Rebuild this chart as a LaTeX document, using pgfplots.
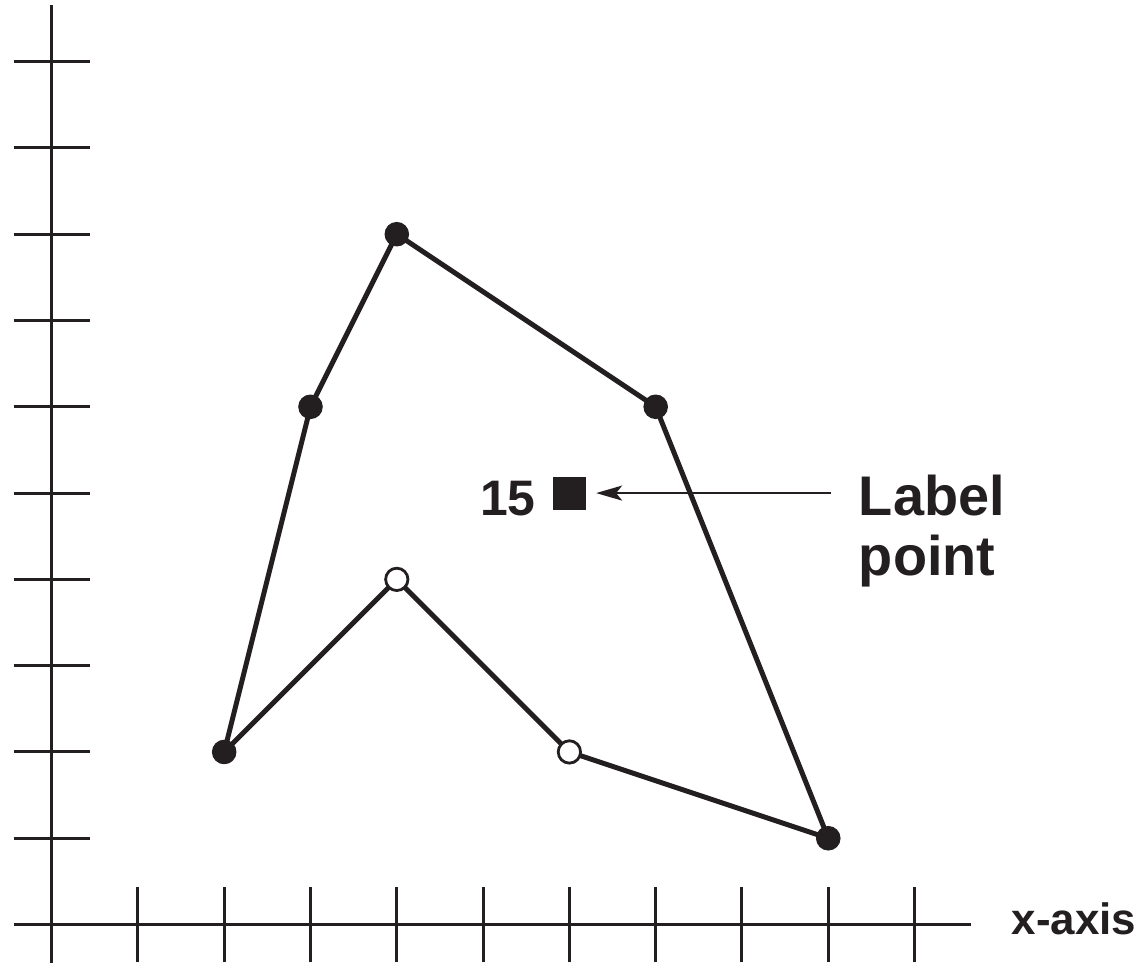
\documentclass[border=0pt]{standalone}
\usepackage{fontspec}
\setmainfont{Liberation Sans}
\usepackage{pgfplots}
\pgfplotsset{compat=1.18}
\usetikzlibrary{arrows.meta}
\definecolor{ink}{RGB}{35,31,32}
\begin{document}
\begin{tikzpicture}
\begin{axis}[
  x=43.25pt, y=43.25pt,
  xmin=-0.44, xmax=10.65, ymin=-0.44, ymax=10.66,
  axis lines=middle,
  axis line style={-, line width=1.5pt, draw=ink},
  every inner x axis line/.append style={-},
  every inner y axis line/.append style={-},
  xtick={1,...,10}, ytick={1,...,10},
  xticklabel=\empty, yticklabel=\empty,
  tick align=center,
  major tick length=38pt,
  tick style={line width=1.5pt, draw=ink},
  clip=false,
]
\path (axis cs:-0.566,-0.454) (axis cs:12.624,10.714);
% lower polygon line
\addplot[ink, line width=2.5pt, no marks] coordinates {(2,2) (4,4) (6,2) (9,1)};
% upper polygon with filled marks
\addplot[ink, line width=2.5pt, mark=*, mark size=5.9pt, mark options={fill=ink, draw=ink, line width=0.5pt}] coordinates {(2,2) (3,6) (4,8) (7,6) (9,1)};
% open marks
\addplot[only marks, mark=*, mark size=5.6pt, mark options={fill=white, draw=ink, line width=1.4pt}] coordinates {(4,4) (6,2)};
% label point square
\addplot[only marks, mark=square*, mark size=8pt, mark options={fill=ink, draw=ink, line width=0pt}] coordinates {(6,5)};
\draw[ink, line width=1.1pt, -{Stealth[length=13pt,width=7.5pt,inset=3pt]}] (axis cs:9.03,5) -- (axis cs:6.31,5);
\node[anchor=base east, inner sep=0pt, text=ink, font=\fontsize{25}{30}\selectfont\bfseries] at (axis cs:5.613,4.74) {15};
\node[anchor=base west, inner sep=0pt, text=ink, font=\fontsize{28}{30}\selectfont\bfseries] at (axis cs:9.35,4.74) {Label};
\node[anchor=base west, inner sep=0pt, text=ink, font=\fontsize{28}{30}\selectfont\bfseries] at (axis cs:9.35,4.04) {point};
\node[anchor=base west, inner sep=0pt, text=ink, font=\fontsize{22}{26}\selectfont\bfseries] at (axis cs:11.12,-0.11) {x-axis};
\end{axis}
\end{tikzpicture}
\end{document}
